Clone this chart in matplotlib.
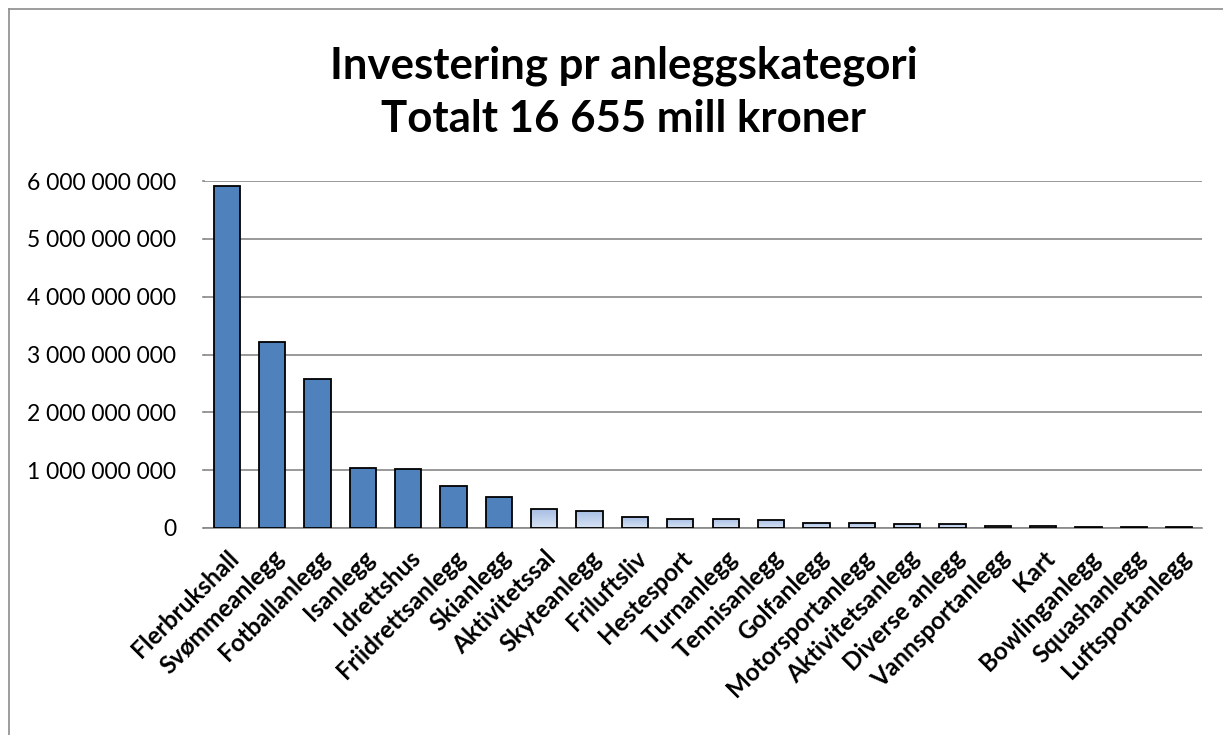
import matplotlib
matplotlib.use("Agg")
import matplotlib.pyplot as plt
import numpy as np
from matplotlib.lines import Line2D
from matplotlib.colors import LinearSegmentedColormap

categories = ["Flerbrukshall", "Svømmeanlegg", "Fotballanlegg", "Isanlegg", "Idrettshus",
              "Friidrettsanlegg", "Skianlegg", "Aktivitetssal", "Skyteanlegg", "Friluftsliv",
              "Hestesport", "Turnanlegg", "Tennisanlegg", "Golfanlegg", "Motorsportanlegg",
              "Aktivitetsanlegg", "Diverse anlegg", "Vannsportanlegg", "Kart", "Bowlinganlegg",
              "Squashanlegg", "Luftsportanlegg"]
values = [5.91e9, 3.22e9, 2.57e9, 1.03e9, 1.02e9,
          0.73e9, 0.54e9, 0.32e9, 0.30e9, 0.19e9,
          0.16e9, 0.16e9, 0.14e9, 0.09e9, 0.08e9,
          0.075e9, 0.07e9, 0.04e9, 0.03e9, 0.025e9,
          0.015e9, 0.015e9]
n_solid = 7
yticks = [0, 1e9, 2e9, 3e9, 4e9, 5e9, 6e9]
ytick_labels = ["0", "1 000 000 000", "2 000 000 000", "3 000 000 000",
                "4 000 000 000", "5 000 000 000", "6 000 000 000"]
title = "Investering pr anleggskategori\nTotalt 16 655 mill kroner"

plt.rcParams['font.family'] = ['Lato', 'DejaVu Sans']

W, H = 1223, 735
fig = plt.figure(figsize=(W / 100, H / 100), dpi=100)
ax = fig.add_axes([204 / W, (H - 528) / H, (1202 - 204) / W, (528 - 181) / H])

x = np.arange(len(categories))
bars = ax.bar(x, values, width=0.58, color="#4F81BD", edgecolor="black",
              linewidth=1.3, zorder=3)

# gradient fill for the light bars
grad = np.linspace(0, 1, 256).reshape(-1, 1)
cmap = LinearSegmentedColormap.from_list("g", ["#D8E3F4", "#A6BEE4"])
for i, b in enumerate(bars):
    if i >= n_solid:
        b.set_facecolor("none")
        x0, y0 = b.get_x(), b.get_y()
        w, h = b.get_width(), b.get_height()
        im = ax.imshow(grad, extent=[x0, x0 + w, y0, y0 + h], origin="lower",
                       cmap=cmap, aspect="auto", zorder=2.5)
        im.set_clip_path(b)

ax.set_xlim(-0.5, len(categories) - 0.5)
ax.set_ylim(0, 6e9)
ax.set_yticks(yticks)
ax.set_yticklabels(ytick_labels, fontsize=16.5, color="black")
ax.set_xticks(x)
ax.set_xticklabels(categories, rotation=45, ha="right", rotation_mode="anchor",
                   fontsize=17.5, fontweight="bold")
ax.tick_params(axis="x", length=0, pad=13)
ax.tick_params(axis="y", length=0, pad=20)
ax.grid(axis="y", color="#888888", linewidth=1.2, zorder=0)
ax.set_axisbelow(True)
for s in ["top", "right", "left"]:
    ax.spines[s].set_visible(False)
ax.spines["bottom"].set_color("#888888")
ax.spines["bottom"].set_linewidth(1.2)

# small outward tick stubs on left
for yv in yticks:
    ax.plot([-0.52, -0.5], [yv, yv], color="#888888", lw=1.2, clip_on=False, zorder=1)

fig.text(0.5 + 12 / W, (H - 92) / H, title, ha="center", va="center", fontsize=31.5,
         fontweight="bold", linespacing=1.4)

# chart frame (left and top edges)
fig.add_artist(Line2D([8.5 / W, 8.5 / W], [0, (H - 8.5) / H], color="#8C8C8C", lw=1.2))
fig.add_artist(Line2D([8.5 / W, 1], [(H - 8.5) / H, (H - 8.5) / H], color="#8C8C8C", lw=1.2))

fig.savefig("out.png", dpi=100)
